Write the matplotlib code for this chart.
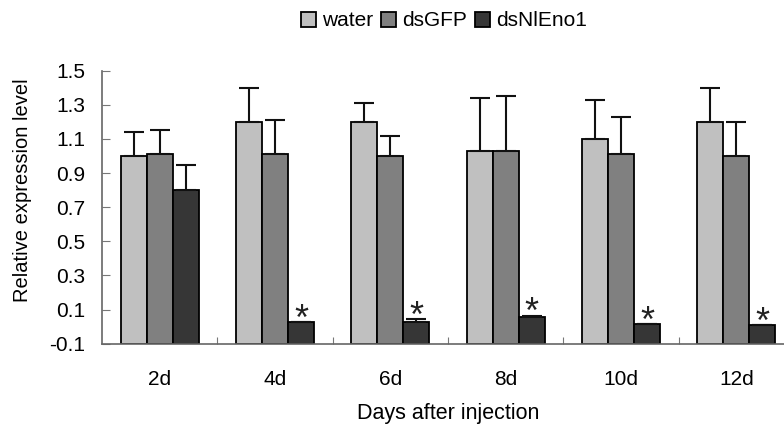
import numpy as np
import matplotlib.pyplot as plt

plt.rcParams["font.family"] = ["Liberation Sans", "DejaVu Sans"]

# Data
days = ["2d", "4d", "6d", "8d", "10d", "12d"]
series = ["water", "dsGFP", "dsNlEno1"]
water = [1.00, 1.20, 1.20, 1.03, 1.10, 1.20]
water_err = [0.14, 0.20, 0.11, 0.31, 0.23, 0.20]
dsgfp = [1.01, 1.01, 1.00, 1.03, 1.01, 1.00]
dsgfp_err = [0.14, 0.20, 0.12, 0.32, 0.22, 0.20]
dsnleno1 = [0.80, 0.025, 0.025, 0.055, 0.016, 0.008]
dsnleno1_err = [0.15, 0.0, 0.02, 0.01, 0.0, 0.0]
significant = [False, True, True, True, True, True]

colors = ["#c0c0c0", "#808080", "#363636"]
ymin, ymax = -0.1, 1.5

fig = plt.figure(figsize=(7.84, 4.29), dpi=100)
ax = fig.add_axes([102 / 784, 85.3 / 429, 692 / 784, 273 / 429])

x = np.arange(len(days))
w = 0.225
vals = [water, dsgfp, dsnleno1]
errs = [water_err, dsgfp_err, dsnleno1_err]
for k, (v, e) in enumerate(zip(vals, errs)):
    v = np.array(v)
    pos = x + (k - 1) * w
    ax.bar(pos, v - ymin, bottom=ymin, width=w, color=colors[k],
           edgecolor="black", linewidth=1.3, label=series[k], zorder=2)
    ax.errorbar(pos, v, yerr=[np.zeros_like(v), e], fmt="none",
                ecolor="#111111", elinewidth=1.5, capsize=7, capthick=1.5, zorder=3)

# significance marks
for i, s in enumerate(significant):
    if s:
        ax.annotate("*", xy=(x[i] + w, dsnleno1[i] + dsnleno1_err[i]),
                    xytext=(0, -5.5), textcoords="offset points",
                    ha="center", va="baseline", fontsize=26, color="#222222",
                    zorder=4)

ax.set_xlim(-0.5, len(days) - 0.5)
ax.set_ylim(ymin, ymax)
ticks = np.arange(-0.1, 1.51, 0.2)
ax.set_yticks(ticks)
ax.set_yticklabels([f"{t:.1f}" for t in ticks], fontsize=15)
ax.set_xticks(np.arange(0.5, len(days) - 0.5, 1.0))
ax.set_xticklabels([])
ax.set_xticks(x, minor=True)
ax.set_xticklabels(days, minor=True, fontsize=15)
ax.tick_params(axis="x", which="minor", length=0, pad=19)
ax.tick_params(axis="x", which="major", direction="in", length=5, color="#777777")
ax.tick_params(axis="y", direction="in", length=6, color="#777777", pad=12)

for side in ["top", "right"]:
    ax.spines[side].set_visible(False)
for side in ["left", "bottom"]:
    ax.spines[side].set_color("#666666")
    ax.spines[side].set_linewidth(1.2)

fig.text(448 / 784, 1 - 413 / 429, "Days after injection", ha="center",
         va="center", fontsize=15.5)
fig.text(23 / 784, 1 - 190 / 429, "Relative expression level", ha="center",
         va="center", rotation=90, fontsize=14.5)

handles, labels = ax.get_legend_handles_labels()
fig.legend(handles, labels, loc="center", bbox_to_anchor=(444 / 784, 1 - 21 / 429),
           ncol=3, frameon=False, fontsize=15, handlelength=0.7, handleheight=0.7,
           handletextpad=0.3, columnspacing=0.4)

fig.savefig("out.png", dpi=100)
